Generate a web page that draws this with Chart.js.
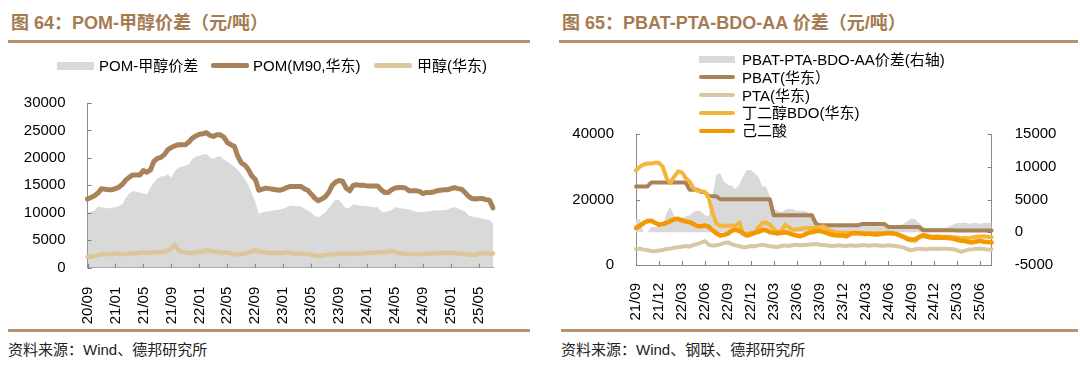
<!DOCTYPE html>
<html><head><meta charset="utf-8">
<script src="https://cdn.jsdelivr.net/npm/chart.js@4.4.0/dist/chart.umd.min.js"></script>
<style>
html,body{margin:0;padding:0;background:#fff;}
body{width:1080px;height:382px;position:relative;overflow:hidden;font-family:'Liberation Sans',Arial,'Noto Sans CJK SC',sans-serif;color:#000;}
.abs{position:absolute;white-space:nowrap;}
.title{font-size:18px;line-height:18px;font-weight:bold;color:#a57b51;}
.rule{position:absolute;height:2.5px;background:#b39271;}
.src{font-size:15px;line-height:15px;color:#222;}
.lg{font-size:15px;line-height:15px;color:#000;}
.sw{position:absolute;}
canvas{position:absolute;}
</style></head><body>
<div class="abs title" style="left:11px;top:14px;">图 64：POM-甲醇价差（元/吨）</div>
<div class="abs title" style="left:562px;top:14px;">图 65：PBAT-PTA-BDO-AA 价差（元/吨）</div>
<div class="rule" style="left:8px;top:40px;width:522px;"></div>
<div class="rule" style="left:559px;top:40px;width:519px;"></div>
<div class="rule" style="left:8px;top:329px;width:522px;"></div>
<div class="rule" style="left:561px;top:329px;width:517px;"></div>
<div class="abs src" style="left:8px;top:342px;">资料来源：Wind、德邦研究所</div>
<div class="abs src" style="left:561px;top:342px;">资料来源：Wind、钢联、德邦研究所</div>

<canvas id="c1" width="540" height="260" style="left:0;top:80px;width:540px;height:260px;"></canvas>
<canvas id="c2" width="540" height="230" style="left:540px;top:110px;width:540px;height:230px;"></canvas>

<!-- left legend -->
<div class="sw" style="left:57px;top:62px;width:36.5px;height:8px;background:#d9d9d9;"></div>
<div class="abs lg" style="left:99px;top:58px;">POM-甲醇价差</div>
<div class="sw" style="left:211px;top:63px;width:38px;height:5px;background:#a9825a;border-radius:2px;"></div>
<div class="abs lg" style="left:253px;top:58px;">POM(M90,华东)</div>
<div class="sw" style="left:374px;top:63.3px;width:38px;height:4.5px;background:#dcc69b;border-radius:2px;"></div>
<div class="abs lg" style="left:417px;top:58px;">甲醇(华东)</div>

<!-- right legend -->
<div class="sw" style="left:699px;top:55.8px;width:36px;height:7px;background:#d9d9d9;"></div>
<div class="abs lg" style="left:742px;top:51.7px;">PBAT-PTA-BDO-AA价差(右轴)</div>
<div class="sw" style="left:699px;top:75.2px;width:36px;height:4px;background:#a9825a;border-radius:2px;"></div>
<div class="abs lg" style="left:742px;top:69.6px;">PBAT(华东）</div>
<div class="sw" style="left:699px;top:93.1px;width:36px;height:4px;background:#d9c7a3;border-radius:2px;"></div>
<div class="abs lg" style="left:742px;top:87.5px;">PTA(华东)</div>
<div class="sw" style="left:699px;top:111px;width:36px;height:4px;background:#f5b53a;border-radius:2px;"></div>
<div class="abs lg" style="left:742px;top:105.4px;">丁二醇BDO(华东)</div>
<div class="sw" style="left:699px;top:128.7px;width:36px;height:4.5px;background:#f39800;border-radius:2px;"></div>
<div class="abs lg" style="left:742px;top:123.3px;">己二酸</div>

<script>
// ---------- Chart 64: POM - methanol (semi-monthly, 2020-09 .. 2025-06) ----------
const pomTicks = ['20/09','21/01','21/05','21/09','22/01','22/05','22/09','23/01','23/05','23/09','24/01','24/05','24/09','25/01','25/05'];
const pomPrice = [
12500,12800,13100,13600,14400,14300,14200,14200,14400,14700,
15200,16000,16500,16900,16900,16900,17700,17400,17800,19400,
19900,20100,20600,21500,21900,22200,22400,22400,22400,22900,
23600,24000,24300,24400,24600,24100,23900,24200,24200,23800,
22800,22400,22100,20300,19100,18700,17900,16700,16100,14100,
14300,14500,14400,14300,14200,14100,14300,14600,14800,14800,
14800,14800,14400,14100,13400,12700,12200,12500,12900,13700,
15000,15600,15900,15700,14500,14000,15000,15100,15000,15000,
14900,14900,14900,14900,14200,13700,13700,14200,14500,14600,
14600,14500,14000,14000,14000,13900,13500,13700,13700,13800,
14000,14100,14200,14200,14400,14600,14400,14300,13700,13000,
12600,12500,12600,12600,12400,12300,10900];
const methanolPrice = [
2000,2000,2100,2300,2400,2500,2500,2500,2600,2500,
2500,2500,2600,2600,2700,2700,2900,2700,2700,2800,
2800,2800,2900,3100,3500,4200,3200,2900,2800,2700,
2700,2800,2900,2900,3200,3100,2900,2900,2800,2700,
2800,2600,2400,2500,2500,2600,2800,3000,3200,2900,
2800,2800,2700,2700,2700,2700,2700,2800,2700,2600,
2600,2600,2500,2500,2400,2200,2100,2200,2300,2400,
2500,2500,2600,2600,2500,2500,2600,2600,2600,2600,
2700,2700,2700,2800,2800,2800,2900,3100,2800,2700,
2600,2500,2500,2500,2500,2500,2500,2500,2600,2600,
2700,2700,2700,2700,2700,2700,2600,2600,2500,2400,
2300,2300,2600,2700,2600,2600,2600];
const pomSpread = [
10000,10200,10400,11200,11000,10900,10800,10900,11000,11300,
11600,12800,13500,14000,13800,13700,13500,13400,14600,15500,
16300,16600,16700,17000,16400,17600,18200,18400,18600,18900,
19800,20200,20400,20600,20700,20100,19800,20200,20300,19700,
19300,18900,18400,17800,17000,16100,15100,13500,12000,9800,
10100,10200,10300,10400,10500,10600,10800,11000,11300,11300,
11200,11200,10800,10400,10000,9400,9200,9600,10100,10800,
11600,12400,12300,11500,10800,10900,11500,11400,11300,11300,
11200,11100,11000,11000,10300,10100,10300,10500,11000,10900,
10800,10700,10600,10400,10200,10100,10100,10300,10300,10400,
10400,10500,10500,10600,10900,11000,10800,10500,10300,9500,
9300,9200,9100,8900,8800,8700,8000];

// ---------- Chart 65: PBAT - PTA - BDO - AA (semi-monthly, 2021-09 .. 2025-07) ----------
const pbatTicks = ['21/09','21/12','22/03','22/06','22/09','22/12','23/03','23/06','23/09','23/12','24/03','24/06','24/09','24/12','25/03','25/06'];
const pbatPrice = [
24000,24000,24000,24000,25200,25200,25200,25200,25200,25200,
25200,25200,25200,25200,23000,23000,23000,22300,22300,21000,
21000,21000,20100,20100,20100,20100,20100,20100,20100,20100,
20100,20100,20100,20100,20100,20100,15200,15200,15200,15200,
15200,15200,15200,15200,15200,15200,15200,12700,12100,12100,
12100,12100,12100,12100,12100,12100,12100,12100,12100,12500,
12500,12500,12500,12500,12500,12500,11600,11600,11600,11600,
11600,11600,11600,11600,11600,10600,10600,10600,10600,10600,
10600,10600,10600,10600,10500,10500,10500,10500,10500,10500,
10500,10500,10500,10500];
const ptaPrice = [
4900,5000,4700,4500,4300,4200,4400,4600,4900,5000,
5300,5400,5600,5800,5600,6100,6400,6800,7300,6200,
5900,6000,6300,6700,6900,6400,6000,5800,5400,5500,
5800,5700,6000,6200,6000,5700,5600,5500,5800,6000,
5800,6100,6200,6000,6100,6200,6300,6400,6200,6100,
6000,5800,5900,6000,5900,5800,6000,5900,5900,6100,
6000,5900,6000,6000,5900,5900,6000,5900,5800,5600,
5300,4800,4500,4800,5000,4900,4800,5000,4900,4900,
5000,5000,4900,4800,4500,4000,4400,4700,4800,5000,
5000,4900,4700,4700];
const bdoPrice = [
28900,30000,30700,31000,31000,31200,31200,30000,26500,25000,
27000,28600,28300,26500,25500,23500,22600,22500,22400,20500,
16000,12700,12000,12000,12000,12000,12000,13000,9500,9400,
9800,9900,11500,12800,13000,12300,11000,10000,10500,12300,
11500,10800,10900,11000,11200,11300,11300,11400,11600,11800,
11000,10400,10000,9900,9800,9900,9900,9700,9700,9800,
9700,9700,9600,9800,9700,9700,9600,9600,9500,9200,
8500,7800,7500,7400,8500,9200,9000,8800,8700,8800,
8600,8600,8600,8500,8400,8200,8300,8200,8400,8600,
8700,8800,8600,8500];
const aaPrice = [
11300,12000,12800,13400,13500,12900,12300,12500,12900,13400,
14000,14100,13600,13300,13100,12500,11900,11800,12100,11700,
10600,9700,9000,9200,9600,10400,10800,10400,9700,9000,
9300,9800,10100,10700,10600,10000,9800,9600,9800,10000,
9700,9300,9000,8800,9200,9800,10000,10300,10400,10100,
9700,9300,9100,9000,9000,8800,9400,9800,9700,9600,
9500,9600,9400,9300,9500,9600,9800,9700,9500,9000,
8600,8000,7800,7900,8500,9000,8700,8400,8300,8400,
8300,8300,8200,8000,7700,7400,7300,7000,6900,7200,
7400,7100,7000,6900];
const pbatSpread = [
2000,2000,0,0,800,800,800,900,3000,3900,
2400,2300,2200,2400,2600,3100,3300,3200,2600,2500,
5500,8800,9000,7700,7300,7100,6600,7300,8600,9500,
9500,9000,8500,7000,7000,5500,3600,3300,3100,3400,
3600,3500,3300,3300,3300,3000,2600,1200,1000,900,
900,900,1000,1000,900,900,1000,1000,900,1100,
1100,1000,1000,900,900,1000,900,900,900,1000,
1300,1700,2100,2000,1400,900,600,600,600,600,
600,700,900,1200,1400,1400,1500,1300,1400,1400,
1300,1400,1400,1500];

// semi-monthly category keys
function halfMonths(y, m, n) {
  const out = [];
  for (let k = 0; k < n; k++) {
    const mm = m + Math.floor(k / 2);
    const yy = y + Math.floor((mm - 1) / 12);
    const mo = ((mm - 1) % 12) + 1;
    out.push(String(yy).slice(2) + '/' + String(mo).padStart(2, '0') + (k % 2 ? 'b' : 'a'));
  }
  return out;
}
const pomDates = halfMonths(2020, 9, pomPrice.length);
const pbatDates = halfMonths(2021, 9, pbatPrice.length);

// inside tick marks (Excel style)
const innerTicks = {
  id: 'innerTicks',
  afterDatasetsDraw(chart, args, opts) {
    const ctx = chart.ctx, ca = chart.chartArea, L = 4;
    ctx.save();
    ctx.strokeStyle = opts.color || '#808080';
    ctx.lineWidth = 1;
    Object.values(chart.scales).forEach(s => {
      s.ticks.forEach((t, i) => {
        if (t.label === null || t.label === undefined || t.label === '') return;
        ctx.beginPath();
        if (s.isHorizontal()) {
          const x = Math.round(s.getPixelForTick(i)) + 0.5;
          ctx.moveTo(x, ca.bottom); ctx.lineTo(x, ca.bottom - L);
        } else {
          const y = Math.round(s.getPixelForTick(i)) + 0.5;
          if (s.position === 'left') { ctx.moveTo(ca.left, y); ctx.lineTo(ca.left + L, y); }
          else { ctx.moveTo(ca.right, y); ctx.lineTo(ca.right - L, y); }
        }
        ctx.stroke();
      });
    });
    ctx.restore();
  }
};

Chart.defaults.font.family = "'Liberation Sans', Arial, 'Noto Sans CJK SC', sans-serif";
Chart.defaults.font.size = 15;
Chart.defaults.color = '#000';

const plainNum = v => String(v);
const axisBorder = { display: true, color: '#8c8c8c', width: 1 };
const lineDs = (label, data, color, w, order, axis) => ({
  label, data, borderColor: color, backgroundColor: color, borderWidth: w,
  pointRadius: 0, fill: false, order, yAxisID: axis || 'y',
  tension: 0, borderJoinStyle: 'round', borderCapStyle: 'round'
});

new Chart(document.getElementById('c1'), {
  type: 'line',
  data: {
    labels: pomDates,
    datasets: [
      { label: 'POM-甲醇价差', data: pomSpread, fill: 'origin', backgroundColor: '#d9d9d9',
        borderWidth: 0, pointRadius: 0, order: 3, tension: 0 },
      lineDs('POM(M90,华东)', pomPrice, '#a9825a', 5, 2),
      lineDs('甲醇(华东)', methanolPrice, '#dcc69b', 4.5, 1)
    ]
  },
  options: {
    responsive: false, animation: false, devicePixelRatio: 1,
    layout: { padding: { top: 21, right: 47, left: 0, bottom: 0 } },
    plugins: { legend: { display: false }, tooltip: { enabled: false }, innerTicks: { color: '#7f7f7f' } },
    scales: {
      x: {
        type: 'category', offset: false, grid: { display: false }, border: axisBorder,
        ticks: { autoSkip: false, minRotation: 90, maxRotation: 90, padding: 11,
          callback: (v, i) => (i % 8 === 0 ? pomTicks[i / 8] : null) },
        afterFit(s) { s.height = 72.3; }
      },
      y: {
        min: 0, max: 30000, grid: { display: false }, border: axisBorder,
        ticks: { stepSize: 5000, padding: 14, callback: plainNum },
        afterFit(s) { s.width = 87.5; }
      }
    }
  },
  plugins: [innerTicks]
});

new Chart(document.getElementById('c2'), {
  type: 'line',
  data: {
    labels: pbatDates,
    datasets: [
      { label: 'PBAT-PTA-BDO-AA价差(右轴)', data: pbatSpread, yAxisID: 'y2', fill: 'origin',
        backgroundColor: '#d9d9d9', borderWidth: 0, pointRadius: 0, order: 10, tension: 0 },
      lineDs('PBAT(华东）', pbatPrice, '#a9825a', 4, 5),
      lineDs('PTA(华东)', ptaPrice, '#d9c7a3', 4, 4),
      lineDs('丁二醇BDO(华东)', bdoPrice, '#f5b53a', 4, 3),
      lineDs('己二酸', aaPrice, '#f39800', 4.5, 2)
    ]
  },
  options: {
    responsive: false, animation: false, devicePixelRatio: 1,
    layout: { padding: { top: 18.8, right: 0, left: 0, bottom: 0 } },
    plugins: { legend: { display: false }, tooltip: { enabled: false }, innerTicks: { color: '#7f7f7f' } },
    scales: {
      x: {
        type: 'category', offset: false, grid: { display: false }, border: axisBorder,
        ticks: { autoSkip: false, minRotation: 90, maxRotation: 90, padding: 10,
          callback: (v, i) => (i % 6 === 0 ? pbatTicks[i / 6] : null) },
        afterFit(s) { s.height = 75; }
      },
      y: {
        position: 'left', min: 0, max: 40000, grid: { display: false }, border: axisBorder,
        ticks: { stepSize: 20000, padding: 14, callback: plainNum },
        afterFit(s) { s.width = 96; }
      },
      y2: {
        position: 'right', min: -5000, max: 15000, grid: { display: false }, border: axisBorder,
        ticks: { stepSize: 5000, padding: 15, callback: plainNum },
        afterFit(s) { s.width = 88.3; }
      }
    }
  },
  plugins: [innerTicks]
});
</script>
</body></html>
